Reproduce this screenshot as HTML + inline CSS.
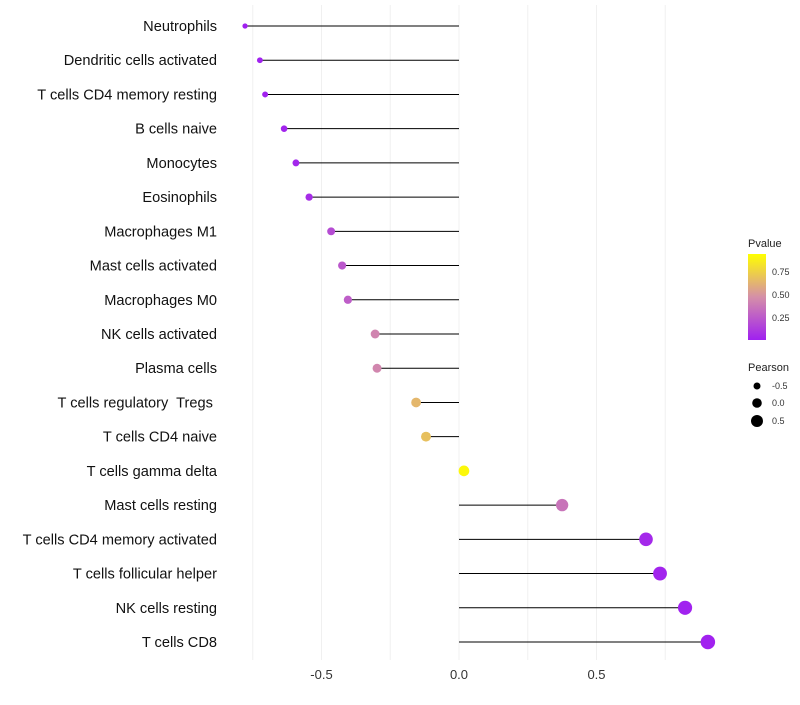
<!DOCTYPE html>
<html><head><meta charset="utf-8"><style>
body{margin:0;background:#fff;font-family:"Liberation Sans",Arial,sans-serif}
svg text{font-family:"Liberation Sans",Arial,sans-serif;white-space:pre}
</style></head><body>
<svg id="chart" width="800" height="700" xmlns="http://www.w3.org/2000/svg">
<defs><linearGradient id="pg" x1="0" y1="1" x2="0" y2="0">
<stop offset="0" stop-color="#a020f0"/><stop offset="0.5" stop-color="#d58fa8"/><stop offset="1" stop-color="#ffff00"/></linearGradient></defs>
<g id="grid"></g>
<g id="marks"></g>
<g id="ylabels"></g>
<g id="xticks"></g>
<g>
<text x="748" y="247" font-size="11" fill="#222">Pvalue</text>
<rect x="748" y="254" width="18" height="86" fill="url(#pg)"/>
<text x="772" y="275" font-size="9" fill="#333">0.75</text>
<text x="772" y="298" font-size="9" fill="#333">0.50</text>
<text x="772" y="321" font-size="9" fill="#333">0.25</text>
</g>
<g>
<text x="748" y="371" font-size="11" fill="#222">Pearson</text>
<circle cx="757" cy="386" r="3.5" fill="#000"/><text x="772" y="389" font-size="9" fill="#333">-0.5</text>
<circle cx="757" cy="403" r="4.8" fill="#000"/><text x="772" y="406" font-size="9" fill="#333">0.0</text>
<circle cx="757" cy="421" r="6" fill="#000"/><text x="772" y="424" font-size="9" fill="#333">0.5</text>
</g>
</svg>
<script>
const categories=["Neutrophils","Dendritic cells activated","T cells CD4 memory resting","B cells naive","Monocytes","Eosinophils","Macrophages M1","Mast cells activated","Macrophages M0","NK cells activated","Plasma cells","T cells regulatory  Tregs ","T cells CD4 naive","T cells gamma delta","Mast cells resting","T cells CD4 memory activated","T cells follicular helper","NK cells resting","T cells CD8"];
const pearson=[-0.778,-0.724,-0.705,-0.636,-0.593,-0.545,-0.465,-0.425,-0.404,-0.305,-0.298,-0.156,-0.12,0.018,0.375,0.68,0.731,0.822,0.905];
const pvalues=[0.0,0.01,0.01,0.02,0.03,0.06,0.2,0.25,0.28,0.45,0.46,0.68,0.72,0.97,0.38,0.04,0.02,0.01,0.01];
const xTicks=[-0.5,0,0.5];
const xTickLabels=["-0.5","0.0","0.5"];
const ns="http://www.w3.org/2000/svg";
const X=v=>459+v*275;
const Y=i=>26+i*(616/18);
const R=v=>Math.sqrt(Math.max(4,28+27*v));
function col(p){const a=[160,32,240],m=[213,143,168],b=[255,255,0];let c0,c1,t;if(p<0.5){c0=a;c1=m;t=p/0.5}else{c0=m;c1=b;t=(p-0.5)/0.5}return `rgb(${c0.map((c,k)=>Math.round(c+(c1[k]-c)*t)).join(",")})`}
function mk(tag,at,par){const e=document.createElementNS(ns,tag);for(const k in at)e.setAttribute(k,at[k]);document.getElementById(par).appendChild(e);return e}
for(let g=-0.75;g<=0.76;g+=0.25){const l=mk("line",{x1:X(g),x2:X(g),y1:5,y2:660,stroke:"#f0f0f0","stroke-width":1},"grid");

}
xTicks.forEach((t,i)=>{const e=mk("text",{x:X(t),y:679,"font-size":13,"text-anchor":"middle",fill:"#333"},"xticks");e.textContent=xTickLabels[i];

});
categories.forEach((c,i)=>{
const t=mk("text",{x:217,y:Y(i)+5,"font-size":14.6,"text-anchor":"end",fill:"#111"},"ylabels");t.textContent=c;


const l=mk("line",{x1:X(0),x2:X(pearson[i]),y1:Y(i),y2:Y(i),stroke:"#000","stroke-width":1},"marks");


const p=mk("circle",{cx:X(pearson[i]),cy:Y(i),r:R(pearson[i]),fill:col(pvalues[i])},"marks");


});
</script>
</body></html>
